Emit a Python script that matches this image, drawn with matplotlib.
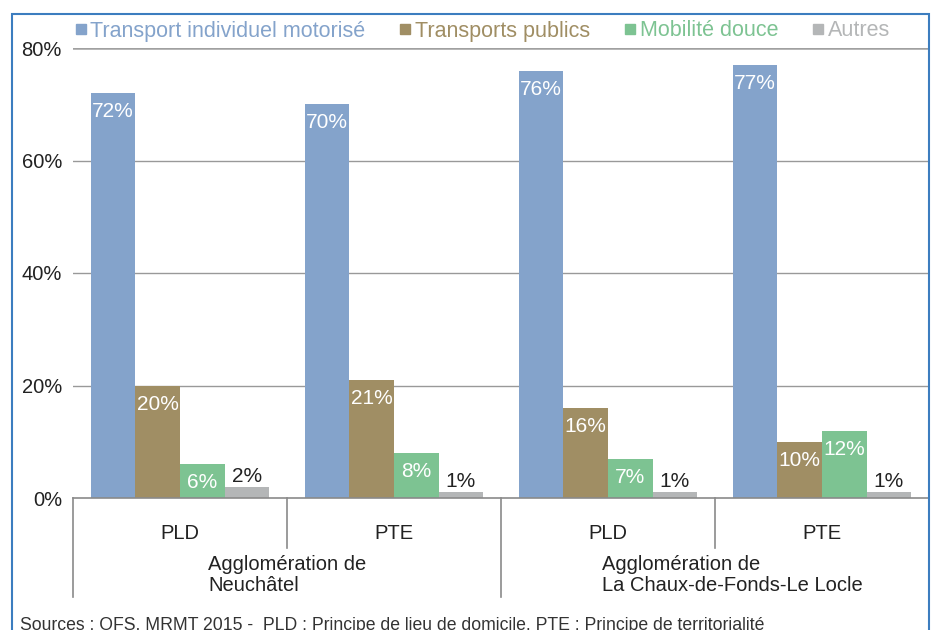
import numpy as np
import matplotlib.pyplot as plt
from matplotlib.patches import Rectangle
from matplotlib.lines import Line2D

plt.rcParams['font.family'] = ['Liberation Sans', 'DejaVu Sans']

# Données
series = ['Transport individuel motorisé', 'Transports publics', 'Mobilité douce', 'Autres']
colors = ['#84A3CB', '#A08E64', '#7DC392', '#B4B6B7']
categories = ['PLD', 'PTE', 'PLD', 'PTE']
groups = ['Agglomération de\nNeuchâtel', 'Agglomération de\nLa Chaux-de-Fonds-Le Locle']
tim = [72, 70, 76, 77]
tp = [20, 21, 16, 10]
md = [6, 8, 7, 12]
autres = [2, 1, 1, 1]
values = [tim, tp, md, autres]
source = 'Sources : OFS, MRMT 2015 -  PLD : Principe de lieu de domicile, PTE : Principe de territorialité'

txt = '#222222'
fig = plt.figure(figsize=(9.38, 6.30), dpi=100)
ax = fig.add_axes([73/938, 132/630, 856/938, 450/630])

x = np.arange(len(categories))
w = 0.208
for i, (vals, col) in enumerate(zip(values, colors)):
    pos = x + (i - 1.5) * w
    bars = ax.bar(pos, vals, width=w, color=col, zorder=3)
    for b, v in zip(bars, vals):
        cx = b.get_x() + b.get_width() / 2
        if i == 3:
            ax.annotate(f'{v}%', (cx, v), xytext=(0, 7.5), textcoords='offset points',
                        ha='center', va='center', fontsize=15, color=txt, zorder=4)
        else:
            ax.annotate(f'{v}%', (cx, v), xytext=(0, -13.5), textcoords='offset points',
                        ha='center', va='center', fontsize=15, color='white', zorder=4)

ax.set_xlim(-0.5, 3.5)
ax.set_ylim(0, 80)
ax.set_yticks([0, 20, 40, 60, 80])
ax.set_yticklabels(['0%', '20%', '40%', '60%', '80%'], fontsize=14.5, color=txt)
ax.tick_params(axis='y', length=0, pad=8)
ax.set_xticks([])
for s in ax.spines.values():
    s.set_visible(False)

# grille
for yv in [20, 40, 60]:
    ax.axhline(yv, color='#999999', lw=1.0, zorder=1)
ax.axhline(80, color='#A0A0A0', lw=1.8, zorder=1)

# axe x multi-niveaux
lc = '#8A8A8A'
ax.plot([-0.5, 3.5], [0, 0], color=lc, lw=1.2, clip_on=False, zorder=5)
trans = ax.get_xaxis_transform()
for xv, ylow in [(-0.5, -0.22), (0.5, -0.111), (1.5, -0.22), (2.5, -0.111)]:
    ax.plot([xv, xv], [0, ylow], color=lc, lw=1.2, transform=trans, clip_on=False)
for xi, lab in zip(x, categories):
    ax.text(xi, -0.078, lab, transform=trans, ha='center', va='center', fontsize=14.5, color=txt)
for gx, lab in zip([0.5, 2.58], groups):
    ax.text(gx, -0.171, lab, transform=trans, ha='center', va='center', multialignment='left',
            fontsize=14.5, color=txt, linespacing=1.18)

# légende
handles = [Line2D([], [], marker='s', ls='', color=c, markersize=7.5) for c in colors]
leg = fig.legend(handles, series, loc='center', bbox_to_anchor=(482/938, 1 - 31/630), ncol=4,
                 frameon=False, fontsize=15.5, handletextpad=0.15, columnspacing=1.55,
                 handlelength=0.6, borderpad=0.2)
for t, c in zip(leg.get_texts(), colors):
    t.set_color(c)

# source (coupée en bas comme l'original)
fig.text(20/938, 1 - 617/630, source, ha='left', va='top', fontsize=12.7, color='#333333')

# cadre
fig.add_artist(Rectangle((12/938, -0.1), (929 - 12)/938, 1.1 - 14/630, transform=fig.transFigure,
                         fill=False, edgecolor='#3C7DBF', lw=1.5))

fig.savefig('out.png', dpi=100)
